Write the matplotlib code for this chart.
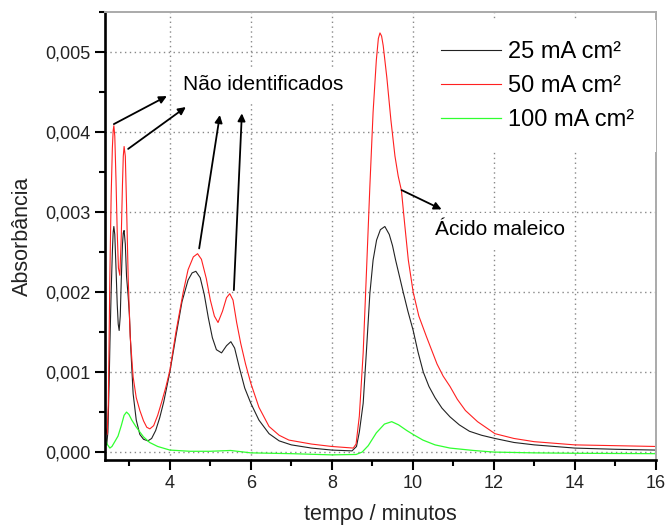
import numpy as np
import matplotlib.pyplot as plt
from matplotlib.ticker import MultipleLocator, FuncFormatter

plt.rcParams['font.family'] = ['Liberation Sans', 'DejaVu Sans']

# absorbance values, in units of 1e-3
t_25 = [2.40, 2.44, 2.47, 2.50, 2.52, 2.55, 2.58, 2.60, 2.617, 2.64, 2.67, 2.70, 2.725, 2.748,
        2.775, 2.80, 2.83, 2.85, 2.87, 2.90, 2.93, 2.97, 3.00, 3.04, 3.093, 3.17, 3.259, 3.35,
        3.457, 3.55, 3.65, 3.75, 3.85, 4.00, 4.15, 4.30, 4.45, 4.55, 4.642, 4.75, 4.85, 4.95,
        5.05, 5.15, 5.277, 5.40, 5.507, 5.60, 5.72, 5.85, 6.00, 6.20, 6.45, 6.70, 7.00, 7.50,
        8.00, 8.50, 8.61, 8.68, 8.775, 8.86, 8.94, 9.02, 9.106, 9.20, 9.31, 9.42, 9.50, 9.576,
        9.67, 9.763, 9.88, 10.01, 10.13, 10.26, 10.40, 10.55, 10.72, 10.92, 11.15, 11.40, 11.70,
        12.03, 12.50, 13.00, 14.00, 15.00, 16.00]
a_25 = [0.22, 0.09, 0.25, 0.85, 1.36, 2.00, 2.50, 2.75, 2.82, 2.72, 2.30, 1.85, 1.60, 1.52,
        1.70, 2.15, 2.60, 2.74, 2.77, 2.60, 2.20, 1.95, 1.72, 1.25, 0.73, 0.40, 0.22, 0.16,
        0.14, 0.17, 0.27, 0.43, 0.63, 1.00, 1.45, 1.88, 2.15, 2.24, 2.26, 2.18, 1.97, 1.68,
        1.43, 1.28, 1.24, 1.33, 1.38, 1.30, 1.05, 0.80, 0.61, 0.40, 0.23, 0.14, 0.09, 0.05,
        0.025, 0.015, 0.07, 0.25, 0.61, 1.30, 1.98, 2.40, 2.65, 2.78, 2.82, 2.72, 2.58, 2.40,
        2.20, 2.00, 1.76, 1.52, 1.25, 1.00, 0.82, 0.68, 0.55, 0.44, 0.34, 0.26, 0.21,
        0.17, 0.12, 0.09, 0.05, 0.035, 0.025]

t_50 = [2.40, 2.45, 2.48, 2.518, 2.55, 2.58, 2.60, 2.617, 2.64, 2.67, 2.70, 2.73, 2.765, 2.80,
        2.83, 2.85, 2.87, 2.90, 2.93, 2.97, 3.02, 3.093, 3.17, 3.259, 3.35, 3.43, 3.506, 3.60,
        3.70, 3.80, 3.90, 4.00, 4.15, 4.33, 4.45, 4.58, 4.684, 4.78, 4.90, 5.00, 5.10, 5.19,
        5.30, 5.40, 5.48, 5.56, 5.65, 5.75, 5.87, 6.00, 6.20, 6.45, 6.70, 6.94, 7.50, 8.00,
        8.53, 8.60, 8.68, 8.775, 8.86, 8.94, 9.02, 9.10, 9.15, 9.19, 9.23, 9.27, 9.36, 9.46,
        9.56, 9.64, 9.72, 9.80, 9.89, 10.01, 10.15, 10.34, 10.60, 10.75, 10.92, 11.10, 11.30,
        11.60, 12.03, 12.50, 13.00, 14.00, 15.00, 16.00]
a_50 = [0.33, 0.22, 0.60, 2.19, 3.20, 3.80, 4.02, 4.08, 3.95, 3.40, 2.75, 2.30, 2.21, 2.70,
        3.35, 3.70, 3.82, 3.70, 3.10, 2.19, 1.45, 0.94, 0.68, 0.52, 0.39, 0.31, 0.29, 0.33,
        0.46, 0.63, 0.81, 1.02, 1.50, 2.00, 2.28, 2.44, 2.48, 2.41, 2.17, 1.90, 1.70, 1.62,
        1.76, 1.93, 1.98, 1.90, 1.62, 1.36, 1.10, 0.86, 0.56, 0.32, 0.21, 0.15, 0.10, 0.07,
        0.05, 0.10, 0.45, 1.24, 2.30, 3.32, 4.25, 4.90, 5.17, 5.24, 5.20, 5.08, 4.68, 4.15,
        3.70, 3.45, 3.27, 2.85, 2.40, 2.00, 1.70, 1.44, 1.10, 0.95, 0.82, 0.66, 0.52,
        0.38, 0.23, 0.17, 0.13, 0.09, 0.08, 0.07]

t_100 = [2.40, 2.45, 2.518, 2.57, 2.64, 2.72, 2.80, 2.87, 2.93, 2.99, 3.06, 3.16, 3.26, 3.35,
         3.50, 3.70, 4.00, 4.50, 5.00, 5.50, 6.00, 7.00, 8.00, 8.60, 8.75, 8.90, 9.10, 9.30,
         9.48, 9.65, 9.85, 10.01, 10.25, 10.55, 10.92, 11.50, 12.00, 13.00, 14.00, 16.00]
a_100 = [0.19, 0.10, 0.05, 0.07, 0.13, 0.20, 0.33, 0.46, 0.50, 0.47, 0.40, 0.32, 0.25, 0.19,
         0.12, 0.07, 0.025, 0.01, 0.01, 0.02, -0.01, -0.02, -0.035, -0.03, 0.0, 0.08, 0.24, 0.35,
         0.38, 0.34, 0.27, 0.22, 0.15, 0.09, 0.05, 0.02, 0.0, -0.01, -0.015, -0.02]

labels = ['25 mA cm²', '50 mA cm²', '100 mA cm²']

fig = plt.figure(figsize=(6.65, 5.27), dpi=100)
ax = fig.add_axes([0.158, 0.127, 0.828, 0.850])

ax.plot(t_25, np.array(a_25) * 1e-3, color='#222222', lw=0.8, label=labels[0])
ax.plot(t_50, np.array(a_50) * 1e-3, color='#ff2020', lw=0.8, label=labels[1])
ax.plot(t_100, np.array(a_100) * 1e-3, color='#30ff30', lw=0.9, label=labels[2])

ax.set_xlim(2.4, 16)
ax.set_ylim(-0.0001, 0.0055)
ax.xaxis.set_major_locator(MultipleLocator(2))
ax.xaxis.set_minor_locator(MultipleLocator(1))
ax.yaxis.set_major_locator(MultipleLocator(0.001))
ax.yaxis.set_minor_locator(MultipleLocator(0.0005))
ax.yaxis.set_major_formatter(FuncFormatter(lambda v, p: f"{v:.3f}".replace('.', ',')))

ax.grid(True, which='major', color='#888888', linestyle=(0, (1, 2.5)), lw=1.0)
ax.set_axisbelow(True)

for s in ['left', 'bottom']:
    ax.spines[s].set_linewidth(1.9)
    ax.spines[s].set_color('black')
for s in ['top', 'right']:
    ax.spines[s].set_linewidth(1.4)
    ax.spines[s].set_color('#aaaaaa')

ax.tick_params(which='major', direction='out', length=7, width=1.5, labelsize=13, pad=3.5,
               top=False, right=False, colors='black', labelcolor='#222222')
ax.tick_params(which='minor', direction='out', length=4, width=1.5, top=False, right=False)

ax.set_xlabel('tempo / minutos', fontsize=15.5, labelpad=9, color='#222222')
ax.set_ylabel('Absorbância', fontsize=15.5, labelpad=9, color='#222222')

# annotations
box = dict(boxstyle='square,pad=0.35', facecolor='white', edgecolor='none')
ax.text(4.33, 0.004525, 'Não identificados', fontsize=15, va='baseline', ha='left', bbox=box, zorder=4)
ax.text(10.55, 0.00271, 'Ácido maleico', fontsize=15, va='baseline', ha='left', bbox=box, zorder=4)

arrows = [((2.617, 0.00410), (3.926, 0.00445)),
          ((2.970, 0.00379), (4.395, 0.004313)),
          ((4.724, 0.002546), (5.235, 0.004213)),
          ((5.581, 0.002025), (5.779, 0.004234)),
          ((9.724, 0.003275), (10.712, 0.003034))]
for start, end in arrows:
    ax.annotate('', xy=end, xytext=start, zorder=5,
                arrowprops=dict(arrowstyle='-|>', color='black', lw=1.3, mutation_scale=11,
                                shrinkA=0, shrinkB=0))

leg = ax.legend(loc='upper right', bbox_to_anchor=(1.0, 0.982), borderaxespad=0, fontsize=17,
                frameon=True, fancybox=False, framealpha=1, facecolor='white', edgecolor='none',
                handlelength=2.54, handletextpad=0.33, labelspacing=0.5, borderpad=0.9)
leg.set_zorder(4)

fig.savefig('out.png', dpi=100)
